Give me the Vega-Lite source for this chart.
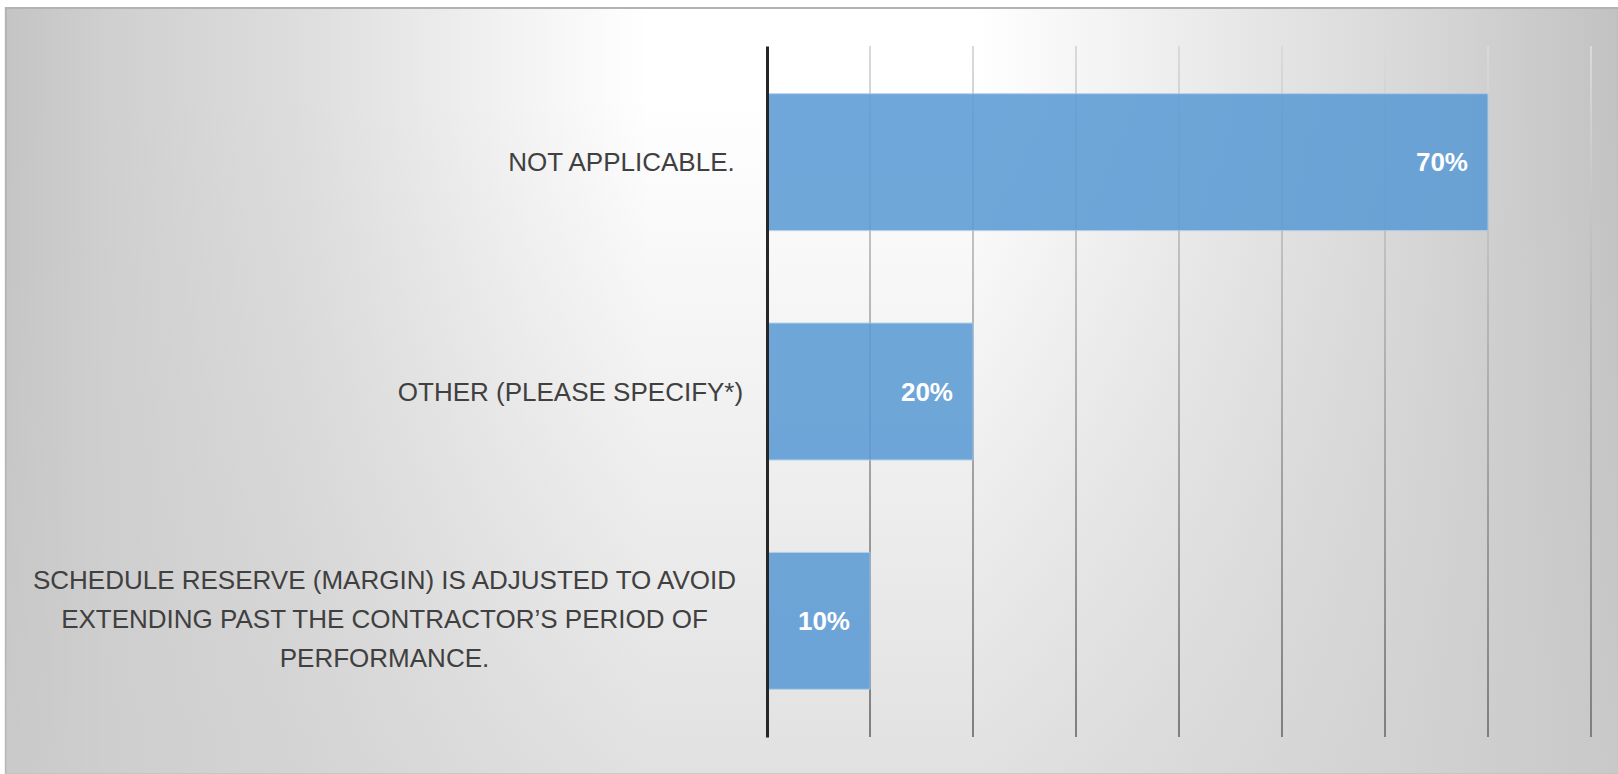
{
  "$schema": "https://vega.github.io/schema/vega-lite/v6.json",
  "autosize": {"type": "none"},
  "width": 824,
  "height": 691,
  "padding": {"left": 767, "top": 46, "right": 27, "bottom": 37},
  "background": "#ffffff",
  "config": {"view": {"stroke": null}},
  "resolve": {"scale": {"y": "independent"}},
  "layer": [
    {
      "data": {"values": [{"bg": 1}]},
      "mark": {
        "type": "rect",
        "stroke": "#b3b3b3",
        "strokeWidth": 2,
        "fill": {
          "gradient": "linear",
          "x1": 0, "y1": 0, "x2": 1, "y2": 0,
          "stops": [
            {"offset": 0, "color": "#c4c4c4"},
            {"offset": 0.06, "color": "#cfcfcf"},
            {"offset": 0.18, "color": "#dddddd"},
            {"offset": 0.31, "color": "#f2f2f2"},
            {"offset": 0.4, "color": "#ffffff"},
            {"offset": 0.6, "color": "#ffffff"},
            {"offset": 0.74, "color": "#ebebeb"},
            {"offset": 0.87, "color": "#d8d8d8"},
            {"offset": 1, "color": "#c2c2c2"}
          ]
        }
      },
      "encoding": {
        "x": {"datum": -0.739, "type": "quantitative", "scale": {"domain": [0, 0.8], "nice": false}, "axis": null},
        "x2": {"datum": 0.827},
        "y": {"datum": -0.055, "type": "quantitative", "scale": {"domain": [0, 1], "reverse": true, "nice": false}, "axis": null},
        "y2": {"datum": 1.054}
      }
    },
    {
      "data": {"values": [{"bg": 1}]},
      "mark": {
        "type": "rect",
        "fill": {
          "gradient": "linear",
          "x1": 0, "y1": 0, "x2": 0, "y2": 1,
          "stops": [
            {"offset": 0, "color": "rgba(205,205,205,0)"},
            {"offset": 0.12, "color": "rgba(205,205,205,0)"},
            {"offset": 1, "color": "rgba(205,205,205,0.6)"}
          ]
        }
      },
      "encoding": {
        "x": {"datum": -0.739, "type": "quantitative", "scale": {"domain": [0, 0.8], "nice": false}, "axis": null},
        "x2": {"datum": 0.827},
        "y": {"datum": -0.055, "type": "quantitative", "scale": {"domain": [0, 1], "reverse": true, "nice": false}, "axis": null},
        "y2": {"datum": 1.054}
      }
    },
    {
      "data": {
        "values": [
          {"answer": "NOT APPLICABLE.", "pct": 0.7},
          {"answer": "OTHER (PLEASE SPECIFY*)", "pct": 0.2},
          {"answer": "SCHEDULE RESERVE (MARGIN) IS ADJUSTED TO AVOID EXTENDING PAST THE CONTRACTOR’S PERIOD OF PERFORMANCE.", "pct": 0.1}
        ]
      },
      "layer": [
        {
          "data": {"values": [{"g": 0.1}, {"g": 0.2}, {"g": 0.3}, {"g": 0.4}, {"g": 0.5}, {"g": 0.6}, {"g": 0.7}, {"g": 0.8}]},
          "mark": {
            "type": "rect",
            "xOffset": -1,
            "x2Offset": 1,
            "fill": {
              "gradient": "linear",
              "x1": 0, "y1": 0, "x2": 0, "y2": 1,
              "stops": [
                {"offset": 0, "color": "#dadada"},
                {"offset": 1, "color": "#7f7f7f"}
              ]
            }
          },
          "encoding": {
            "x": {"field": "g", "type": "quantitative", "scale": {"domain": [0, 0.8], "nice": false}, "axis": null},
            "x2": {"field": "g"}
          }
        },
        {
          "mark": {"type": "bar", "color": "#5b9bd5", "opacity": 0.87, "stroke": "#a8cbeb", "strokeWidth": 1},
          "encoding": {
            "y": {
              "field": "answer",
              "type": "nominal",
              "sort": null,
              "scale": {"paddingInner": 0.403, "paddingOuter": 0.208},
              "axis": {
                "title": null,
                "ticks": false,
                "zindex": 1,
                "domainColor": "#262626",
                "domainWidth": 3,
                "labelFont": "Liberation Sans",
                "labelFontSize": 26,
                "labelColor": "#404040",
                "labelAlign": "center",
                "labelBaseline": "middle",
                "labelPadding": {
                  "condition": [
                    {"test": "datum.value == 'NOT APPLICABLE.'", "value": 146},
                    {"test": "datum.value == 'OTHER (PLEASE SPECIFY*)'", "value": 197}
                  ],
                  "value": 383
                },
                "labelOffset": {
                  "condition": {"test": "datum.value != 'NOT APPLICABLE.' && datum.value != 'OTHER (PLEASE SPECIFY*)'", "value": -40},
                  "value": 1
                },
                "labelLimit": 0,
                "labelLineHeight": 39,
                "labelExpr": "datum.value == 'NOT APPLICABLE.' || datum.value == 'OTHER (PLEASE SPECIFY*)' ? datum.label : ['SCHEDULE RESERVE (MARGIN) IS ADJUSTED TO AVOID', 'EXTENDING PAST THE CONTRACTOR’S PERIOD OF', 'PERFORMANCE.']"
              }
            },
            "x": {"field": "pct", "type": "quantitative", "scale": {"domain": [0, 0.8], "nice": false}, "axis": null}
          }
        },
        {
          "mark": {"type": "text", "align": "right", "baseline": "middle", "dx": -20, "dy": 1, "color": "#ffffff", "font": "Liberation Sans", "fontSize": 26, "fontWeight": "bold"},
          "encoding": {
            "y": {"field": "answer", "type": "nominal", "sort": null},
            "x": {"field": "pct", "type": "quantitative", "scale": {"domain": [0, 0.8], "nice": false}, "axis": null},
            "text": {"field": "pct", "type": "quantitative", "format": ".0%"}
          }
        }
      ]
    }
  ]
}
